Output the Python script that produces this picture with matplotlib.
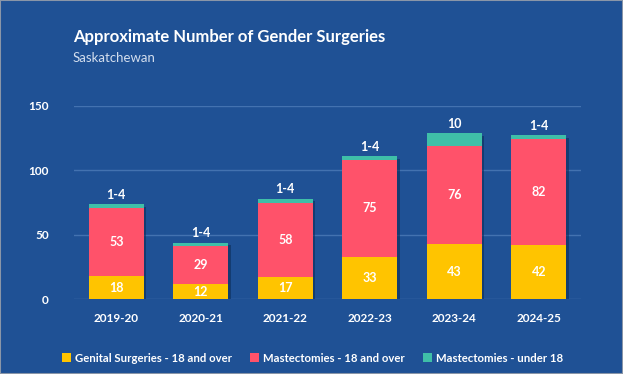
import matplotlib
matplotlib.use('Agg')
import matplotlib.pyplot as plt
import matplotlib.patheffects as pe
import numpy as np

# -------------------------------------------------------------------------------------------------
# Data
# -------------------------------------------------------------------------------------------------
years = ['2019-20', '2020-21', '2021-22', '2022-23', '2023-24', '2024-25']
genital = [18, 12, 17, 33, 43, 42]
mastect = [53, 29, 58, 75, 76, 82]
under18 = [3, 3, 3, 3, 10, 3]          # "1-4" drawn as ~3
under18_lbl = ['1-4', '1-4', '1-4', '1-4', '10', '1-4']
series_names = ['Genital Surgeries - 18 and over', 'Mastectomies - 18 and over', 'Mastectomies - under 18']

BG = '#1F5195'
GRID = '#4372B0'
C_YEL = '#FFC400'
C_RED = '#FF526A'
C_TEAL = '#3FBFA8'

plt.rcParams['font.family'] = ['Lato', 'DejaVu Sans']

fig = plt.figure(figsize=(6.23, 3.74), dpi=100, facecolor=BG)
ax = fig.add_axes([74/623, 1-299.3/374, 507/623, 193.6/374])
ax.set_facecolor(BG)

x = np.arange(len(years))
w = 0.65
tot = np.array(genital) + np.array(mastect) + np.array(under18)

# shadow
ax.bar(x, tot, w, color=BG, zorder=2,
       path_effects=[pe.SimplePatchShadow(offset=(2, -2), shadow_rgbFace='#0E2E5A', alpha=0.6), pe.Normal()])
b1 = ax.bar(x, genital, w, color=C_YEL, zorder=3)
b2 = ax.bar(x, mastect, w, bottom=genital, color=C_RED, zorder=3)
b3 = ax.bar(x, under18, w, bottom=np.array(genital) + np.array(mastect), color=C_TEAL, zorder=3)

for i in range(len(years)):
    ax.text(x[i], genital[i] / 2, str(genital[i]), ha='center', va='center', color='white',
            fontsize=9, fontweight='bold', zorder=4)
    ax.text(x[i], genital[i] + mastect[i] / 2, str(mastect[i]), ha='center', va='center', color='white',
            fontsize=9, fontweight='bold', zorder=4)
    ax.text(x[i], tot[i] + 2.5, under18_lbl[i], ha='center', va='bottom', color='white',
            fontsize=9, fontweight='bold', zorder=4)

ax.set_xlim(-0.5, 5.5)
ax.set_ylim(0, 150)
ax.set_yticks([0, 50, 100, 150])
ax.set_xticks(x)
ax.set_xticklabels(years)
ax.grid(axis='y', color=GRID, linewidth=1, zorder=0)
ax.set_axisbelow(True)
for s in ax.spines.values():
    s.set_visible(False)
ax.tick_params(length=0, colors='white', labelsize=8.5, pad=10)
for lbl in ax.get_xticklabels() + ax.get_yticklabels():
    lbl.set_fontweight('bold')
ax.tick_params(axis='y', pad=18)

fig.text(73/623, 1-37/374, 'Approximate Number of Gender Surgeries', color='white', fontsize=12,
         fontweight='bold', va='center', ha='left')
fig.text(73/623, 1-58/374, 'Saskatchewan', color='#D3DEEE', fontsize=9.5, va='center', ha='left')

leg = fig.legend([b1, b2, b3], series_names, loc='center', bbox_to_anchor=(0.502, 1-358/374), ncol=3,
                 frameon=False, prop={'size': 8.2, 'weight': 'bold'}, labelcolor='white',
                 handlelength=0.8, handleheight=0.8, handletextpad=0.35, columnspacing=1.6)

fig.patches.append(plt.Rectangle((0, 0), 1, 1, transform=fig.transFigure, fill=False,
                                 edgecolor='#8A96A8', linewidth=1.5))

fig.savefig('out.png', dpi=100, facecolor=BG)
